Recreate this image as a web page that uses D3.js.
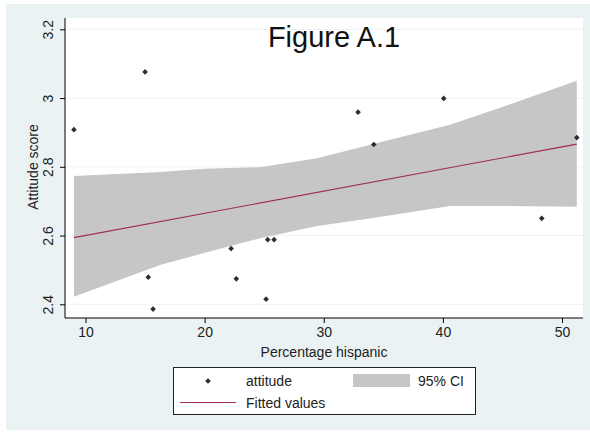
<!DOCTYPE html>
<html>
<head>
<meta charset="utf-8">
<script src="https://cdn.jsdelivr.net/npm/d3@7"></script>
<style>
  body { margin: 0; background: #ffffff; }
  text { font-family: Arial, "Liberation Sans", sans-serif; }
</style>
</head>
<body>
<div id="chart"></div>
<script>
// scatter: percentage hispanic vs attitude score
var pctHispanic = [9.03, 15.0, 15.27, 15.67, 22.22, 22.66, 25.16, 25.3, 25.83, 32.88, 34.2, 40.07, 48.3, 51.24];
var attitude    = [2.908, 3.076, 2.479, 2.386, 2.562, 2.474, 2.415, 2.588, 2.588, 2.959, 2.865, 2.999, 2.650, 2.885];

// fitted values (endpoints)
var fitX = [9.03, 51.24];
var fitY = [2.594, 2.866];

// 95% CI band
var ciX     = [9.03, 16.26, 19.95, 24.65, 29.44, 34.14, 40.6, 45.05, 51.24];
var ciUpper = [2.773, 2.785, 2.794, 2.799, 2.825, 2.866, 2.922, 2.975, 3.050];
var ciLower = [2.422, 2.514, 2.549, 2.592, 2.628, 2.651, 2.686, 2.686, 2.684];

var xTicks = [10, 20, 30, 40, 50];
var yTicks = [2.4, 2.6, 2.8, 3, 3.2];

var width = 590, height = 432;

var svg = d3.select('#chart').append('svg')
    .attr('width', width)
    .attr('height', height);

// outer graph region
svg.append('rect')
    .attr('x', 6).attr('y', 4)
    .attr('width', width - 6).attr('height', height - 6)
    .attr('fill', '#eaf2f3');

var plot = { left: 65, top: 18, right: 583, bottom: 318 };

svg.append('rect')
    .attr('x', plot.left).attr('y', plot.top)
    .attr('width', plot.right - plot.left).attr('height', plot.bottom - plot.top)
    .attr('fill', '#ffffff');

var x = d3.scaleLinear().domain([10, 50]).range([85.5, 562]);
var y = d3.scaleLinear().domain([2.4, 3.2]).range([304.3, 29.3]);

// faint gridlines
svg.selectAll('.grid')
    .data(yTicks)
    .enter().append('line')
    .attr('x1', plot.left).attr('x2', plot.right)
    .attr('y1', function (d) { return y(d); })
    .attr('y2', function (d) { return y(d); })
    .attr('stroke', '#eef3f4')
    .attr('stroke-width', 1);

// CI band
var band = ciX.map(function (d, i) { return { x: d, lo: ciLower[i], hi: ciUpper[i] }; });
svg.append('path')
    .datum(band)
    .attr('fill', '#c6c6c6')
    .attr('d', d3.area()
        .x(function (d) { return x(d.x); })
        .y0(function (d) { return y(d.lo); })
        .y1(function (d) { return y(d.hi); }));

// fitted line
var fit = fitX.map(function (d, i) { return { x: d, y: fitY[i] }; });
svg.append('path')
    .datum(fit)
    .attr('fill', 'none')
    .attr('stroke', '#a0304a')
    .attr('stroke-width', 1.1)
    .attr('d', d3.line()
        .x(function (d) { return x(d.x); })
        .y(function (d) { return y(d.y); }));

// points: small square turned 45 degrees (Stata diamond)
var diamond = d3.symbol().type(d3.symbolSquare).size(16);
svg.selectAll('.pt')
    .data(pctHispanic)
    .enter().append('path')
    .attr('class', 'pt')
    .attr('d', diamond)
    .attr('fill', '#27303a')
    .attr('transform', function (d, i) {
        return 'translate(' + x(d) + ',' + y(attitude[i]) + ') rotate(45)';
    });

// axes
var xAxis = svg.append('g')
    .attr('transform', 'translate(0,' + plot.bottom + ')')
    .call(d3.axisBottom(x).tickValues(xTicks).tickSize(5).tickSizeOuter(0).tickPadding(4));
xAxis.select('.domain').attr('d', 'M' + plot.left + ',0H' + plot.right).attr('stroke', '#000');
xAxis.selectAll('text').attr('font-size', 14).attr('fill', '#222');

var yAxis = svg.append('g')
    .attr('transform', 'translate(' + plot.left + ',0)')
    .call(d3.axisLeft(y).tickValues(yTicks).tickSize(5).tickSizeOuter(0)
        .tickFormat(function (d) { return d3.format('')(d); }));
yAxis.select('.domain').attr('d', 'M0,' + plot.top + 'V' + plot.bottom).attr('stroke', '#000');
yAxis.selectAll('text')
    .attr('font-size', 14)
    .attr('fill', '#222')
    .attr('text-anchor', 'middle')
    .attr('x', 0).attr('dy', 0)
    .attr('transform', 'translate(-12,0) rotate(-90)');

// titles
svg.append('text')
    .attr('x', 334).attr('y', 47)
    .attr('text-anchor', 'middle')
    .attr('font-size', 29)
    .attr('fill', '#111')
    .text('Figure A.1');

svg.append('text')
    .attr('transform', 'translate(38,167) rotate(-90)')
    .attr('text-anchor', 'middle')
    .attr('font-size', 14)
    .attr('fill', '#222')
    .text('Attitude score');

svg.append('text')
    .attr('x', 324).attr('y', 357)
    .attr('text-anchor', 'middle')
    .attr('font-size', 14)
    .attr('fill', '#222')
    .text('Percentage hispanic');

// legend
var lg = svg.append('g');
lg.append('rect')
    .attr('x', 173.5).attr('y', 367.5)
    .attr('width', 302).attr('height', 47)
    .attr('fill', '#ffffff')
    .attr('stroke', '#222');
lg.append('path')
    .attr('d', diamond)
    .attr('fill', '#27303a')
    .attr('transform', 'translate(208,381) rotate(45)');
lg.append('text')
    .attr('x', 246).attr('y', 386)
    .attr('font-size', 14).attr('fill', '#222')
    .text('attitude');
lg.append('line')
    .attr('x1', 180).attr('x2', 236)
    .attr('y1', 402.5).attr('y2', 402.5)
    .attr('stroke', '#a0304a').attr('stroke-width', 1.1);
lg.append('text')
    .attr('x', 246).attr('y', 408)
    .attr('font-size', 14).attr('fill', '#222')
    .text('Fitted values');
lg.append('rect')
    .attr('x', 353).attr('y', 374)
    .attr('width', 57).attr('height', 13)
    .attr('fill', '#c6c6c6');
lg.append('text')
    .attr('x', 418).attr('y', 386)
    .attr('font-size', 14).attr('fill', '#222')
    .text('95% CI');
</script>
</body>
</html>
